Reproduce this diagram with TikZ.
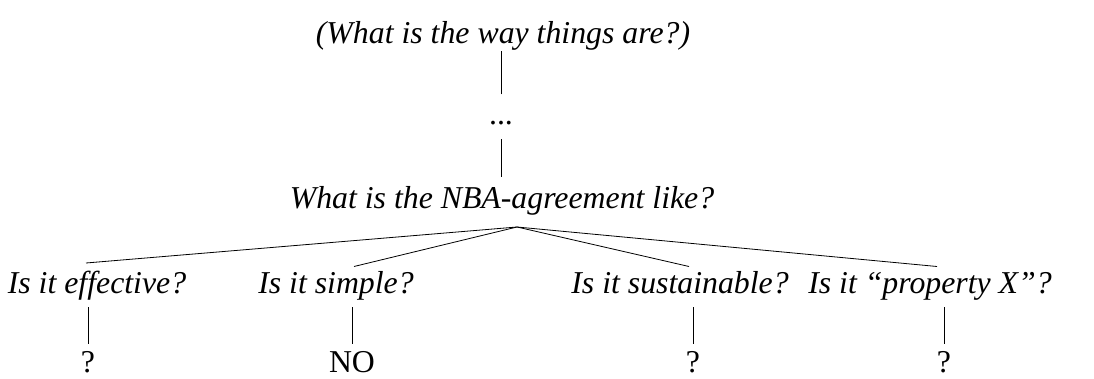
\documentclass[tikz,border=0pt]{standalone}
\usepackage{fontspec}
\setmainfont{Liberation Serif}
\begin{document}
\begin{tikzpicture}[x=1pt,y=-1pt,
  txt/.style={inner sep=0pt,anchor=base,font=\fontsize{31.8}{36}\selectfont\itshape},
  ans/.style={inner sep=0pt,anchor=base,text depth=0pt,font=\fontsize{31.8}{36}\selectfont},
  edge/.style={line width=0.8pt}]
\useasboundingbox (0,0) rectangle (1094,379);
% root and chain
\node[txt] (top) at (503,44) {(What is the way things are?)};
\node[ans] (dots) at (501,125) {...};
\node[txt] (nba) at (502,209) {What is the NBA-agreement like?};
\coordinate (apex) at (517,227);
% questions
\node[txt] (q1) at (97,293) {Is it effective?};
\node[txt] (q2) at (336,293) {Is it simple?};
\node[txt] (q3) at (680,293) {Is it sustainable?};
\node[txt] (q4) at (930,293) {Is it ``property X''?};
% answers
\node[ans] (a1) at (88,372) {?};
\node[ans] (a2) at (352,372) {NO};
\node[ans] (a3) at (693,372) {?};
\node[ans] (a4) at (944,372) {?};
% connectors
\draw[edge] (dots.north) ++(0,-27) -- ++(0,-43);
\draw[edge] (dots.south) ++(0,14) -- ++(0,38);
\foreach \i/\xe in {1/86,2/354,3/689,4/937}{
  \draw[edge] (apex) -- (\xe,{\i==1 ? 263 : 266.5});
  \draw[edge] (a\i.north |- 0,307) -- (a\i.north |- 0,344);
}
\end{tikzpicture}
\end{document}
